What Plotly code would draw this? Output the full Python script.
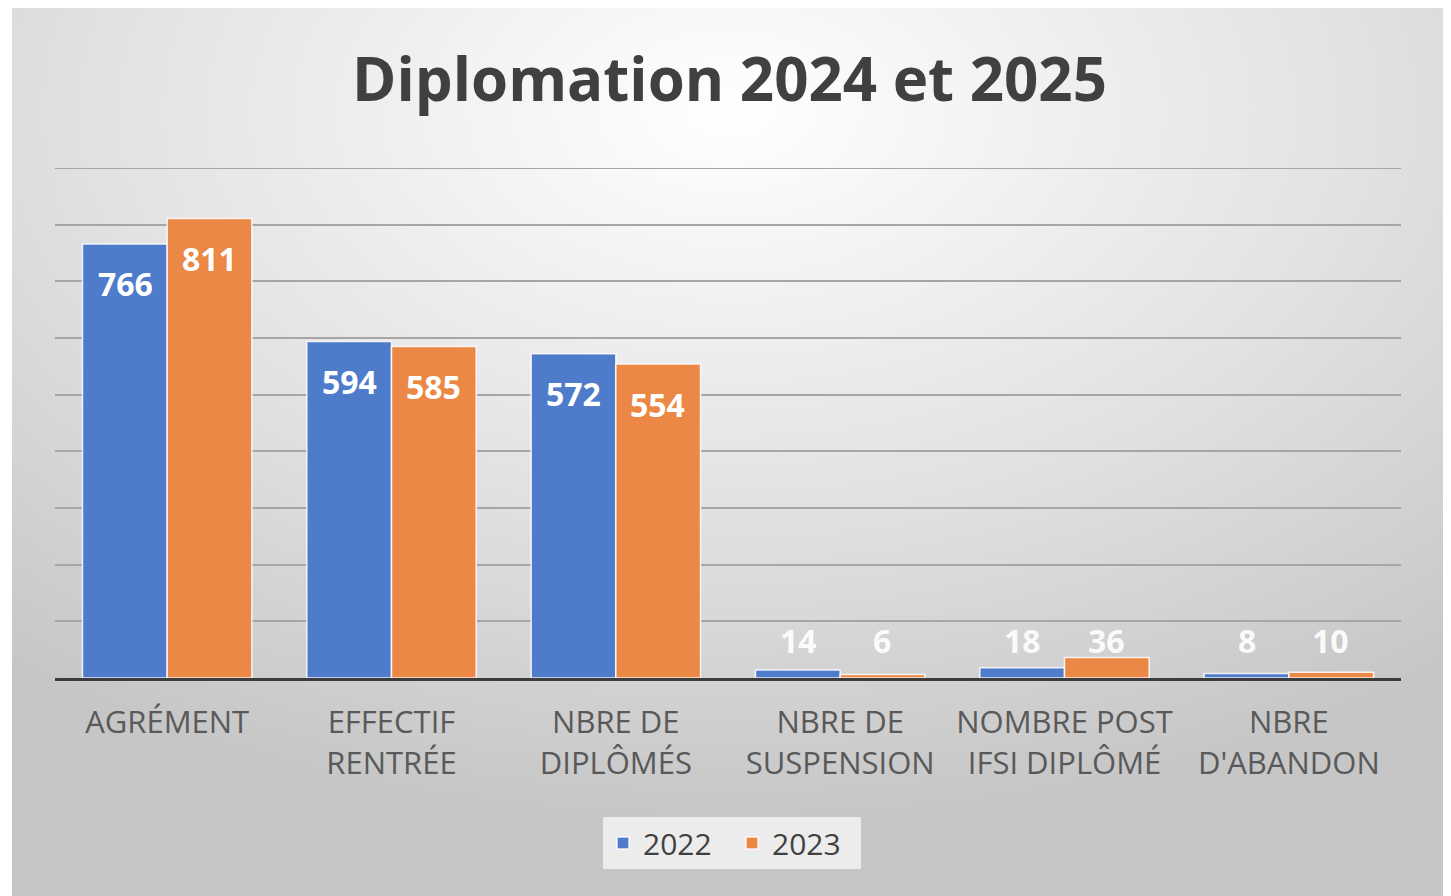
import base64
import plotly.graph_objects as go

categories = ["AGRÉMENT", "EFFECTIF<br>RENTRÉE", "NBRE DE<br>DIPLÔMÉS",
              "NBRE DE<br>SUSPENSION", "NOMBRE POST<br>IFSI DIPLÔMÉ", "NBRE<br>D'ABANDON"]
series_names = ["2022", "2023"]
values_2022 = [766, 594, 572, 14, 18, 8]
values_2023 = [811, 585, 554, 6, 36, 10]
y_ticks = [0, 100, 200, 300, 400, 500, 600, 700, 800, 900]

# the page body has an 8px margin, so the figure is laid out 8px up/left
W, H = 1443, 888
ML, MR, MT, MB = 47, 50, 160, 218
PW, PH = W - ML - MR, H - MT - MB

BLUE = "#4f7bcb"
ORANGE = "#eb8846"
GRID = "#a6a6a6"
FONT = "Open Sans, Noto Sans, DejaVu Sans, sans-serif"

IMG_W, IMG_H = 1435, 892
svg = f'''<svg xmlns="http://www.w3.org/2000/svg" width="{IMG_W}" height="{IMG_H}" viewBox="0 0 {IMG_W} {IMG_H}" preserveAspectRatio="none">
<defs><radialGradient id="g" cx="50%" cy="12%" r="80%" fx="50%" fy="12%">
<stop offset="0" stop-color="#ffffff"/><stop offset="0.55" stop-color="#e2e2e2"/><stop offset="1" stop-color="#c6c6c6"/>
</radialGradient></defs><rect width="{IMG_W}" height="{IMG_H}" fill="url(#g)"/></svg>'''
src = "data:image/svg+xml;base64," + base64.b64encode(svg.encode()).decode()

fig = go.Figure()
for name, vals, col in [(series_names[0], values_2022, BLUE), (series_names[1], values_2023, ORANGE)]:
    fig.add_trace(go.Bar(
        name=name, x=categories, y=vals,
        marker=dict(color=col, line=dict(color="rgba(255,255,255,0.85)", width=1.5)),
        hoverinfo="x+y+name",
    ))

# data labels
ymax = y_ticks[-1]
px_per_unit = PH / ymax
for shift, vals in [(-42, values_2022), (42, values_2023)]:
    for c, v in zip(categories, vals):
        tall = v * px_per_unit > 80
        fig.add_annotation(
            x=c, y=v if tall else 0, xref="x", yref="y",
            text=str(v), showarrow=False,
            xshift=shift, yshift=-40 if tall else 38,
            yanchor="middle",
            font=dict(family=FONT, size=32, color="white" if tall else "rgba(255,255,255,0.92)",
                      weight="bold"),
        )

# top gridline (plotly omits the grid line lying on the plot edge)
fig.add_hline(y=y_ticks[-1], line=dict(color=GRID, width=2), layer="below")

fig.update_layout(
    width=W, height=H,
    margin=dict(l=ML, r=MR, t=MT, b=MB),
    paper_bgcolor="white",
    plot_bgcolor="rgba(0,0,0,0)",
    barmode="group", bargap=0.245, bargroupgap=0.0,
    title=dict(text="<b>Diplomation 2024 et 2025</b>", x=0.5, xanchor="center",
               y=1 - 72 / H, yanchor="middle",
               font=dict(family=FONT, size=60, color="#404040")),
    legend=dict(orientation="h", x=(724 - ML) / PW, xanchor="center",
                y=-(835 - (MT + PH)) / PH, yanchor="middle",
                bgcolor="rgba(242,242,242,0.85)", borderwidth=0,
                font=dict(family=FONT, size=30, color="#404040"),
                itemwidth=30, entrywidth=84, tracegroupgap=0),
    images=[dict(source=src, xref="paper", yref="paper",
                 x=(4 - ML) / PW, y=1 + (MT + 4) / PH,
                 sizex=IMG_W / PW, sizey=IMG_H / PH,
                 sizing="stretch", layer="below", xanchor="left", yanchor="top")],
    showlegend=True,
)
fig.update_xaxes(
    showgrid=False, showline=True, linecolor="#3c3c3c", linewidth=3,
    ticks="", ticklabelstandoff=15,
    tickfont=dict(family=FONT, size=31, color="#595959"),
)
fig.update_yaxes(
    range=[0, ymax], tickvals=y_ticks, showticklabels=False,
    showgrid=True, gridcolor=GRID, gridwidth=2, zeroline=False,
)

fig.write_html("out.html")
